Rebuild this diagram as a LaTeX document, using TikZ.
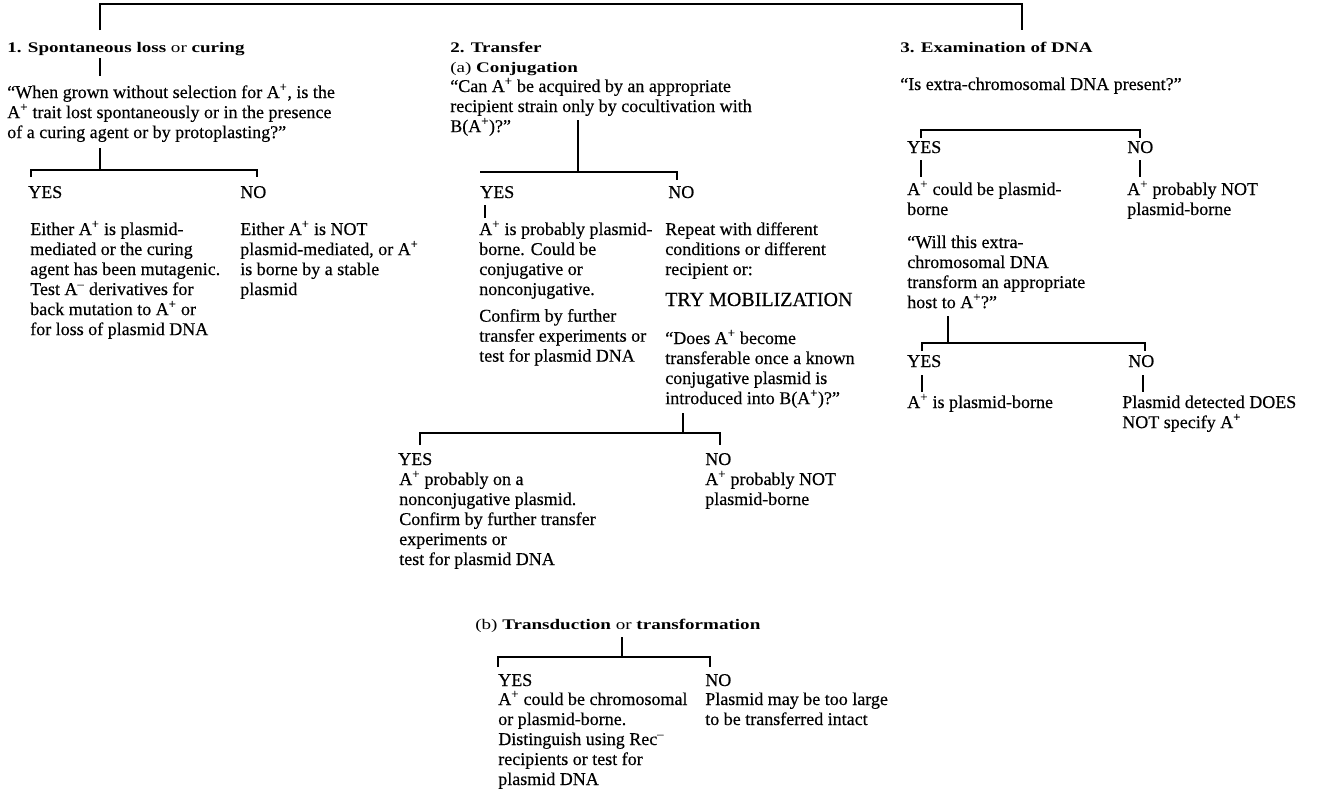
\documentclass[tikz,border=0pt]{standalone}
\usepackage{fontspec}
\setmainfont{Liberation Serif}[FakeBold=0.3]
\newfontfamily\headfont[FakeStretch=1.3]{Liberation Serif}

\newcommand{\Apl}{A\textsuperscript{+}}
\newcommand{\Amn}{A\textsuperscript{\textendash}}
% left-aligned block whose reference point is the baseline of its first line
\newcommand{\tlines}[1]{\begin{tabular}[t]{@{}l@{}}#1\end{tabular}}

\tikzset{
  txt/.style={anchor=base west, inner sep=0pt,
              font=\fontsize{13.5}{15}\selectfont},
  head/.style={anchor=base west, inner sep=0pt,
               font=\headfont\fontsize{11}{15}\selectfont},
  big/.style={anchor=base west, inner sep=0pt, font=\fontsize{15}{17}\selectfont},
  ln/.style={line width=1.35pt},
}

\begin{document}
\begin{tikzpicture}[x=0.75pt,y=-0.75pt]
\useasboundingbox (0,0) rectangle (1331,800);
\fill[white] (0,0) rectangle (1331,800);

% ---------- top bracket ----------
\coordinate (topL) at (100,4);
\coordinate (topR) at (1022,4);
\coordinate (topLd) at (100,30);
\coordinate (topRd) at (1022,30);
\draw[ln] (topLd) -- (topL) -- (topR) -- (topRd);

% ---------- 1. Spontaneous loss or curing ----------
\node[head] (h1) at (7,52) {\textbf{1. Spontaneous loss} or \textbf{curing}};
\coordinate (s1a) at (100,58);
\coordinate (s1b) at (100,76);
\draw[ln] (s1a) -- (s1b);
\node[txt] (q1) at (7,98) {\tlines{“When grown without selection for \Apl, is the\\
\Apl{} trait lost spontaneously or in the presence\\
of a curing agent or by protoplasting?”}};
\coordinate (s1c) at (100,148);
\coordinate (b1) at (100,170);
\coordinate (b1L) at (31,170);
\coordinate (b1R) at (257,170);
\draw[ln] (s1c) -- (b1);
\draw[ln] ([yshift=-7*0.75pt]b1L) -- (b1L) -- (b1R) -- ([yshift=-7*0.75pt]b1R);
\node[txt] (y1) at (28,198) {YES};
\node[txt] (n1) at (240,198) {NO};
\node[txt] (t1y) at (30,235) {\tlines{Either \Apl{} is plasmid-\\
mediated or the curing\\
agent has been mutagenic.\\
Test \Amn{} derivatives for\\
back mutation to \Apl{} or\\
for loss of plasmid DNA}};
\node[txt] (t1n) at (240,235) {\tlines{Either \Apl{} is NOT\\
plasmid-mediated, or \Apl\\
is borne by a stable\\
plasmid}};

% ---------- 2. Transfer (a) Conjugation ----------
\node[head] (h2) at (450,52) {\tlines{\textbf{2. Transfer}\\(a) \textbf{Conjugation}}};
\node[txt] (q2) at (450,92) {\tlines{“Can \Apl{} be acquired by an appropriate\\
recipient strain only by cocultivation with\\
B(\Apl)?”}};
\coordinate (s2a) at (578,120);
\coordinate (b2) at (578,172);
\coordinate (b2L) at (480,172);
\coordinate (b2R) at (677,172);
\draw[ln] (s2a) -- (b2);
\draw[ln] (b2L) -- (b2R) -- ([yshift=-8*0.75pt]b2R);
\node[txt] (y2) at (480,198) {YES};
\node[txt] (n2) at (668,198) {NO};
\coordinate (y2a) at (485,205);
\coordinate (y2b) at (485,218);
\draw[ln] (y2a) -- (y2b);
\node[txt] (t2y) at (479,235) {\tlines{\Apl{} is probably plasmid-\\
borne. Could be\\
conjugative or\\
nonconjugative.\\[5pt]
Confirm by further\\
transfer experiments or\\
test for plasmid DNA}};
\node[txt] (t2n) at (665,235) {\tlines{Repeat with different\\
conditions or different\\
recipient or:}};
\node[big] (try) at (665,306) {TRY MOBILIZATION};
\node[txt] (q3) at (665,344) {\tlines{“Does \Apl{} become\\
transferable once a known\\
conjugative plasmid is\\
introduced into B(\Apl)?”}};
\coordinate (s3a) at (683,413);
\coordinate (b3) at (683,433);
\coordinate (b3L) at (420,433);
\coordinate (b3R) at (720,433);
\draw[ln] (s3a) -- (b3);
\draw[ln] ([yshift=-12*0.75pt]b3L) -- (b3L) -- (b3R) -- ([yshift=-12*0.75pt]b3R);
\node[txt] (y3) at (398,465) {YES};
\node[txt] (n3) at (705,465) {NO};
\node[txt] (t3y) at (399,485) {\tlines{\Apl{} probably on a\\
nonconjugative plasmid.\\
Confirm by further transfer\\
experiments or\\
test for plasmid DNA}};
\node[txt] (t3n) at (705,485) {\tlines{\Apl{} probably NOT\\
plasmid-borne}};

% ---------- (b) Transduction or transformation ----------
\node[head] (hb) at (475,629) {(b) \textbf{Transduction} or \textbf{transformation}};
\coordinate (s4a) at (622,637);
\coordinate (b4) at (622,657);
\coordinate (b4L) at (498,657);
\coordinate (b4R) at (710,657);
\draw[ln] (s4a) -- (b4);
\draw[ln] ([yshift=-10*0.75pt]b4L) -- (b4L) -- (b4R) -- ([yshift=-10*0.75pt]b4R);
\node[txt] (y4) at (498,686) {YES};
\node[txt] (n4) at (705,686) {NO};
\node[txt] (t4y) at (498,705) {\tlines{\Apl{} could be chromosomal\\
or plasmid-borne.\\
Distinguish using Rec\textsuperscript{\textendash}\\
recipients or test for\\
plasmid DNA}};
\node[txt] (t4n) at (705,705) {\tlines{Plasmid may be too large\\
to be transferred intact}};

% ---------- 3. Examination of DNA ----------
\node[head] (h3) at (900,52) {\textbf{3. Examination of DNA}};
\node[txt] (q5) at (900,90) {“Is extra-chromosomal DNA present?”};
\coordinate (b5L) at (921,130);
\coordinate (b5R) at (1140,130);
\draw[ln] ([yshift=-8*0.75pt]b5L) -- (b5L) -- (b5R) -- ([yshift=-8*0.75pt]b5R);
\node[txt] (y5) at (907,153) {YES};
\node[txt] (n5) at (1127,153) {NO};
\coordinate (y5a) at (921,160);
\coordinate (y5b) at (921,177);
\coordinate (n5a) at (1140,160);
\coordinate (n5b) at (1140,177);
\draw[ln] (y5a) -- (y5b);
\draw[ln] (n5a) -- (n5b);
\node[txt] (t5y) at (907,195) {\tlines{\Apl{} could be plasmid-\\borne}};
\node[txt] (t5n) at (1127,195) {\tlines{\Apl{} probably NOT\\plasmid-borne}};
\node[txt] (q6) at (907,248) {\tlines{“Will this extra-\\
chromosomal DNA\\
transform an appropriate\\
host to \Apl?”}};
\coordinate (s6a) at (948,316);
\coordinate (b6) at (948,343);
\coordinate (b6L) at (922,343);
\coordinate (b6R) at (1145,343);
\draw[ln] (s6a) -- (b6);
\draw[ln] ([yshift=-8*0.75pt]b6L) -- (b6L) -- (b6R) -- ([yshift=-8*0.75pt]b6R);
\node[txt] (y6) at (907,367) {YES};
\node[txt] (n6) at (1128,367) {NO};
\coordinate (y6a) at (922,375);
\coordinate (y6b) at (922,392);
\coordinate (n6a) at (1143,375);
\coordinate (n6b) at (1143,392);
\draw[ln] (y6a) -- (y6b);
\draw[ln] (n6a) -- (n6b);
\node[txt] (t6y) at (907,408) {\Apl{} is plasmid-borne};
\node[txt] (t6n) at (1122,408) {\tlines{Plasmid detected DOES\\NOT specify \Apl}};
\end{tikzpicture}
\end{document}
